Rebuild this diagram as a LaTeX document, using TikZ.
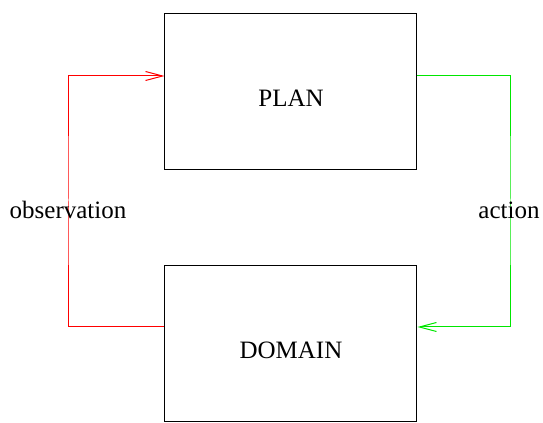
\documentclass[tikz,border=0pt]{standalone}
\usepackage{fontspec}
\setmainfont{Liberation Serif}
\usetikzlibrary{positioning,arrows.meta}
\definecolor{obsred}{RGB}{255,0,0}
\definecolor{actgreen}{RGB}{0,230,0}

\begin{document}
\begin{tikzpicture}[x=0.5pt, y=-0.5pt, line width=0.5pt,
    nodes = {align = center, font=\fontsize{12.5}{15}\selectfont},
    block/.style = {draw, minimum width=126pt, minimum height=78pt, inner sep=0pt,
      text height=14.5pt, text depth=0pt},
    flow/.style = {-{Straight Barb[length=8.5pt,width=4.5pt]}}]
    \useasboundingbox (0,0) rectangle (543,423);
    \node (plan) [block] at (291,91.5) {PLAN};
    \node (domain) [block] at (291,344) {DOMAIN};
    \draw[flow, obsred] (domain.west |- 0,327) -| (69,200) |- (plan.west |- 0,76);
    \draw[flow, actgreen] (plan.east |- 0,76) -| (511,200) |- (domain.east |- 0,327);
    \node (obslabel) at (68,210) {observation};
    \node (actlabel) at (509,210) {action};
\end{tikzpicture}
\end{document}
